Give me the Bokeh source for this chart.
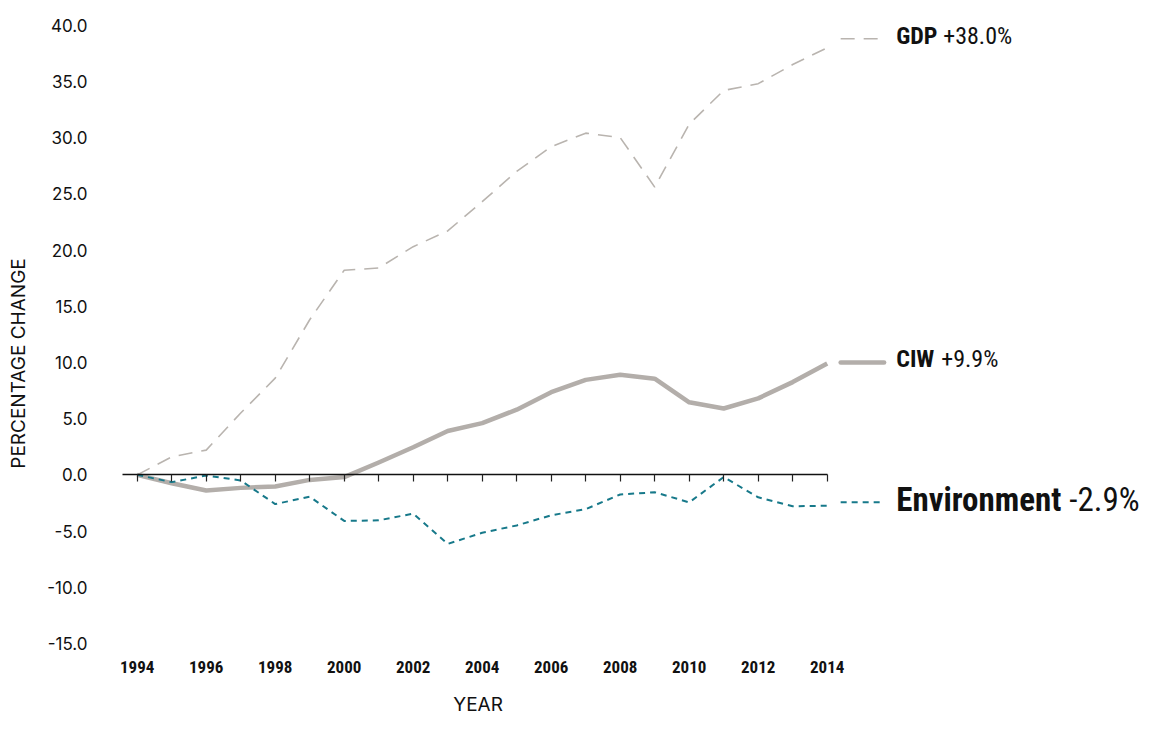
from bokeh.plotting import figure
from bokeh.embed import file_html
from bokeh.resources import INLINE
from bokeh.core.properties import value
from bokeh.models import Range1d, LinearAxis, FixedTicker, PrintfTickFormatter, Label

# ---------------- data ----------------
years = list(range(1994, 2015))
gdp = [0.0, 1.6, 2.2, 5.5, 8.6, 13.8, 18.2, 18.4, 20.3, 21.7, 24.3,
       27.0, 29.2, 30.4, 30.0, 25.6, 31.2, 34.2, 34.8, 36.5, 38.0]
ciw = [0.0, -0.75, -1.4, -1.16, -1.04, -0.45, -0.2, 1.1, 2.45, 3.9, 4.6,
       5.8, 7.35, 8.45, 8.9, 8.55, 6.45, 5.9, 6.8, 8.25, 9.9]
env = [0.0, -0.65, -0.06, -0.5, -2.6, -1.95, -4.1, -4.05, -3.45, -6.15, -5.15,
       -4.5, -3.6, -3.05, -1.75, -1.55, -2.45, -0.2, -2.0, -2.8, -2.75]

series_names = ["GDP", "CIW", "Environment"]
series_changes = ["+38.0%", "+9.9%", "-2.9%"]
label_levels = [38.8, 10.0, -2.45]          # y level of the end-label leaders
y_ticks = [-15, -10, -5, 0, 5, 10, 15, 20, 25, 30, 35, 40]
x_label_ticks = list(range(1994, 2015, 2))

# ---------------- styles / placement ----------------
GDP_COLOR = "#b9b4af"
CIW_COLOR = "#b3aeaa"
ENV_COLOR = "#17798a"
COND = "Roboto Condensed"
GEO = "Inter"
INK = "#111111"

leader_x0, leader_x1, label_x = 2014.39, 2015.65, 2016.0
x_label_row = -15.63          # where the year labels hang from
year_title_pos = (2003.88, -21.45)

p = figure(width=1141, height=724, output_backend="svg", toolbar_location=None,
           x_range=Range1d(1992.936, 2023.110), y_range=Range1d(-21.50, 41.31),
           min_border_left=100, min_border_right=0, min_border_top=10, min_border_bottom=8,
           background_fill_color="white", border_fill_color="white")
p.outline_line_color = None
p.xgrid.grid_line_color = None
p.ygrid.grid_line_color = None

# year tick labels
xa = p.xaxis[0]
xa.fixed_location = x_label_row
xa.ticker = FixedTicker(ticks=x_label_ticks)
xa.axis_line_color = None
xa.major_tick_line_color = None
xa.minor_tick_line_color = None
xa.major_label_standoff = 4
xa.major_label_text_font = COND
xa.major_label_text_font_style = "bold"
xa.major_label_text_font_size = "17px"
xa.major_label_text_color = INK

# zero line axis with yearly ticks
zero_axis = LinearAxis(fixed_location=0, ticker=FixedTicker(ticks=years),
                       bounds=(1993.565, 2014))
zero_axis.axis_line_color = INK
zero_axis.axis_line_width = 1.4
zero_axis.major_tick_line_color = "#222222"
zero_axis.major_tick_line_width = 1.2
zero_axis.major_tick_in = 0
zero_axis.major_tick_out = 7
zero_axis.minor_tick_line_color = None
zero_axis.major_label_text_font_size = "0px"
zero_axis.major_label_text_alpha = 0
p.add_layout(zero_axis, "below")

# y axis
ya = p.yaxis[0]
ya.ticker = FixedTicker(ticks=y_ticks)
ya.formatter = PrintfTickFormatter(format="%.1f")
ya.axis_line_color = None
ya.major_tick_line_color = None
ya.minor_tick_line_color = None
ya.major_label_standoff = 7
ya.major_label_text_font = GEO
ya.major_label_text_font_size = "17px"
ya.major_label_text_color = INK
ya.axis_label = "PERCENTAGE CHANGE"
ya.axis_label_standoff = 14
ya.axis_label_text_font = GEO
ya.axis_label_text_font_style = "normal"
ya.axis_label_text_font_size = "19px"
ya.axis_label_text_color = INK

# series
p.line(years, gdp, line_color=GDP_COLOR, line_width=1.6, line_dash="14 9")
p.line(years, ciw, line_color=CIW_COLOR, line_width=4.5, line_join="round")
p.line(years, env, line_color=ENV_COLOR, line_width=2, line_dash="6 5")

# leaders to end labels
styles = [dict(line_color=GDP_COLOR, line_width=1.6, line_dash="14 9"),
          dict(line_color=CIW_COLOR, line_width=4.5, line_cap="round"),
          dict(line_color=ENV_COLOR, line_width=2, line_dash="6 5")]
for lvl, st in zip(label_levels, styles):
    p.line([leader_x0, leader_x1], [lvl, lvl], **st)

# end labels
name_sizes = ["24px", "24px", "33px"]
value_offsets = [47, 45, 173]
for name, chg, lvl, fs, off in zip(series_names, series_changes, label_levels,
                                   name_sizes, value_offsets):
    p.text(x=[label_x], y=[lvl], text=[name], y_offset=-3, text_font=value(COND),
           text_font_style="bold", text_font_size=fs, text_baseline="middle",
           text_align="left", text_color=INK)
    p.text(x=[label_x], y=[lvl], text=[chg], x_offset=off, y_offset=-3,
           text_font=value(COND), text_font_style="normal", text_font_size=fs,
           text_baseline="middle", text_align="left", text_color=INK)

# x axis title
p.add_layout(Label(x=year_title_pos[0], y=year_title_pos[1], text="YEAR",
                   text_align="center", text_baseline="bottom",
                   text_font=GEO, text_font_size="19px", text_color=INK))

open("out.html", "w").write(file_html(p, INLINE))
